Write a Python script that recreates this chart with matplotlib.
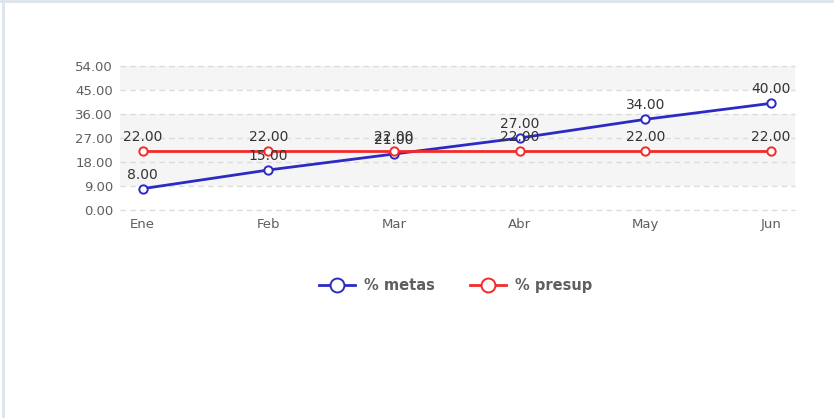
import numpy as np
import matplotlib.pyplot as plt
from matplotlib.lines import Line2D

meses = ['Ene', 'Feb', 'Mar', 'Abr', 'May', 'Jun']
metas = [8, 15, 21, 27, 34, 40]
presup = [22, 22, 22, 22, 22, 22]
yticks = [0, 9, 18, 27, 36, 45, 54]
bandas = [(9, 36), (45, 54)]

azul = '#2b2bc4'
rojo = '#f42a2a'
gris_txt = '#5f5f5f'

fig = plt.figure(figsize=(8.34, 4.18), dpi=100)
ax = fig.add_axes([0.1439, 0.4976, 0.8093, 0.3445])
x = np.arange(len(meses))

for lo, hi in bandas:
    ax.axhspan(lo, hi, color='#f5f5f5', zorder=0, lw=0)
for t in yticks:
    ax.axhline(t, color='#dcdcdc', lw=1, ls=(0, (4, 3)), zorder=1, clip_on=False)

ax.plot(x, metas, color=azul, lw=2.0, marker='o', ms=6, mfc='white',
        mec=azul, mew=1.4, zorder=3)
ax.plot(x, presup, color=rojo, lw=2.0, marker='o', ms=6, mfc='white',
        mec=rojo, mew=1.4, zorder=3)

for serie in (metas, presup):
    for xi, v in zip(x, serie):
        ax.annotate(f'{v:.2f}', (xi, v), xytext=(0, 5), textcoords='offset points',
                    ha='center', va='bottom', fontsize=10, color='#333333', zorder=4)

ax.set_xlim(-0.18, 5.19)
ax.set_ylim(0, 54)
ax.set_yticks(yticks)
ax.set_yticklabels([f'{t:.2f}' for t in yticks])
ax.set_xticks(x)
ax.set_xticklabels(meses)
ax.tick_params(axis='both', length=0, labelsize=9.5, colors=gris_txt)
ax.tick_params(axis='y', pad=5)
ax.tick_params(axis='x', pad=6)
for s in ax.spines.values():
    s.set_visible(False)

handles = [Line2D([], [], color=azul, lw=2.0, marker='o', ms=10, mfc='white', mec=azul, mew=1.4),
           Line2D([], [], color=rojo, lw=2.0, marker='o', ms=10, mfc='white', mec=rojo, mew=1.4)]
leg = fig.legend(handles, ['% metas', '% presup'], loc='center', bbox_to_anchor=(0.546, 0.316),
                 ncol=2, frameon=False, handlelength=2.5, handletextpad=0.6, columnspacing=2.4,
                 prop={'weight': 'bold', 'size': 10.5})
for t in leg.get_texts():
    t.set_color(gris_txt)

# borde del contenedor
fig.add_artist(Line2D([0.004, 0.004], [0, 1], color='#dde4ec', lw=2))
fig.add_artist(Line2D([0, 1], [0.998, 0.998], color='#dde4ec', lw=2))

fig.savefig('out.png', dpi=100)
